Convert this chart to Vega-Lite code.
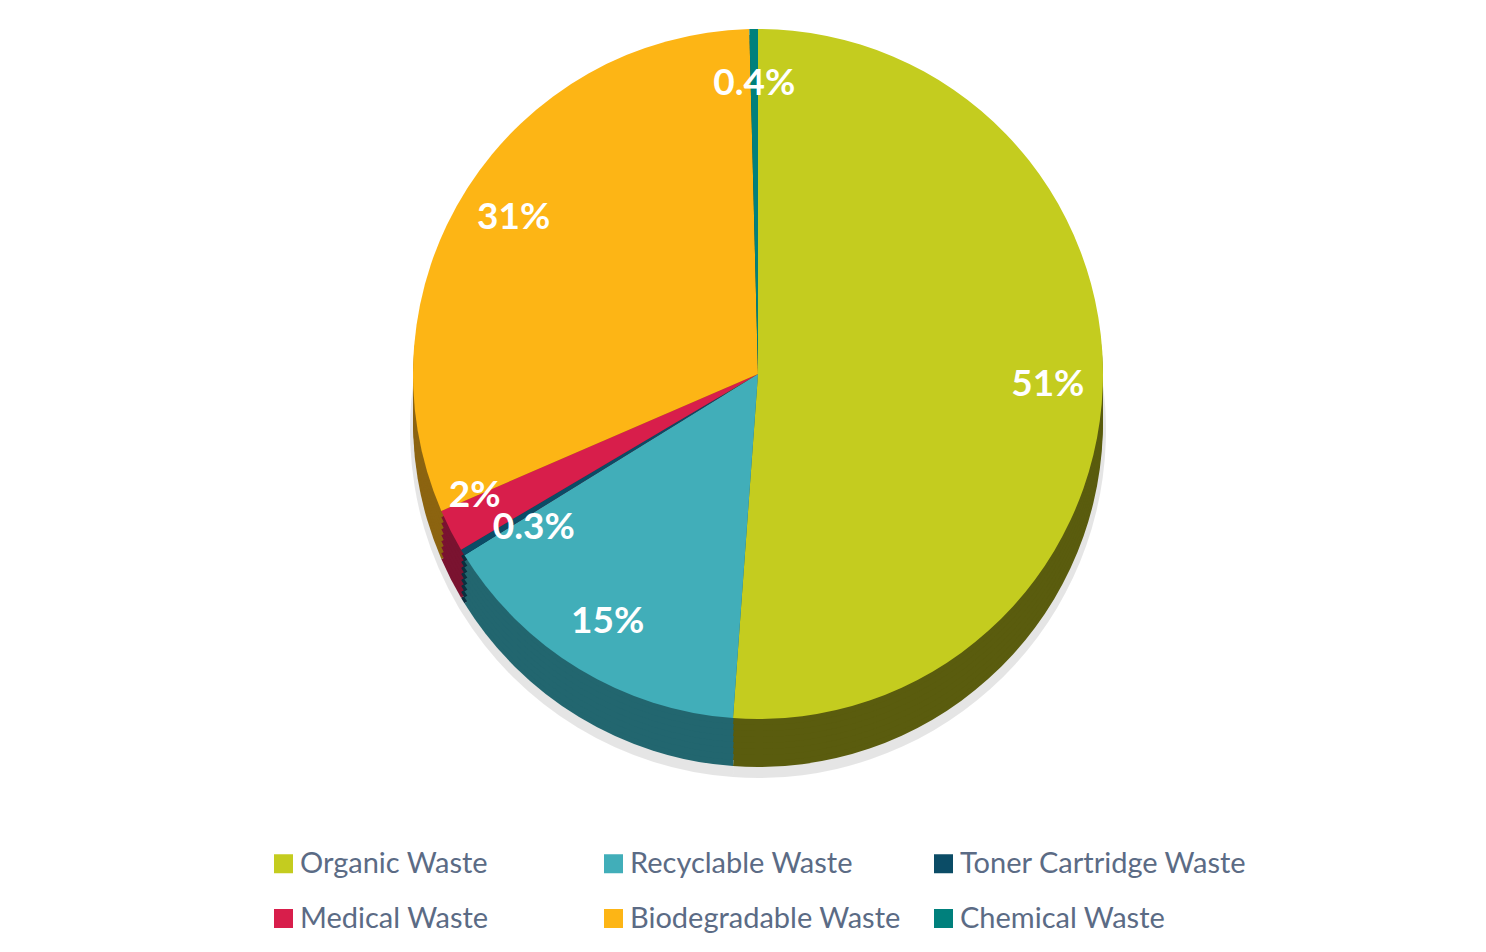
{
  "$schema": "https://vega.github.io/schema/vega-lite/v6.json",
  "width": 1456,
  "height": 738,
  "autosize": {"type": "pad"},
  "padding": {"left": 30, "top": 5, "right": 0, "bottom": 0},
  "background": "white",
  "config": {"view": {"stroke": null}, "font": "Lato"},
  "data": {
    "values": [
      {"category": "Organic Waste", "value": 51, "label": "51%", "idx": 1},
      {"category": "Recyclable Waste", "value": 15, "label": "15%", "idx": 2},
      {"category": "Toner Cartridge Waste", "value": 0.3, "label": "0.3%", "idx": 3},
      {"category": "Medical Waste", "value": 2, "label": "2%", "idx": 4},
      {"category": "Biodegradable Waste", "value": 31, "label": "31%", "idx": 5},
      {"category": "Chemical Waste", "value": 0.4, "label": "0.4%", "idx": 6}
    ]
  },
  "encoding": {
    "theta": {"field": "value", "type": "quantitative", "stack": true},
    "order": {"field": "idx", "type": "quantitative"}
  },
  "layer": [
    {
      "mark": {"type": "arc", "outerRadius": 348, "yOffset": 56, "fill": "#000000", "opacity": 0.1}
    },
    {"mark": {"type": "arc", "outerRadius": 345, "yOffset": 48}, "encoding": {"color": {"field": "category", "type": "nominal", "scale": {"domain": ["Organic Waste", "Recyclable Waste", "Toner Cartridge Waste", "Medical Waste", "Biodegradable Waste", "Chemical Waste"], "range": ["#5A5C0E", "#22666F", "#0A2F3F", "#7A1330", "#8C6410", "#004848"]}, "legend": null}}},
    {"mark": {"type": "arc", "outerRadius": 345, "yOffset": 42}, "encoding": {"color": {"field": "category", "type": "nominal", "scale": {"domain": ["Organic Waste", "Recyclable Waste", "Toner Cartridge Waste", "Medical Waste", "Biodegradable Waste", "Chemical Waste"], "range": ["#5A5C0E", "#22666F", "#0A2F3F", "#7A1330", "#8C6410", "#004848"]}, "legend": null}}},
    {"mark": {"type": "arc", "outerRadius": 345, "yOffset": 36}, "encoding": {"color": {"field": "category", "type": "nominal", "scale": {"domain": ["Organic Waste", "Recyclable Waste", "Toner Cartridge Waste", "Medical Waste", "Biodegradable Waste", "Chemical Waste"], "range": ["#5A5C0E", "#22666F", "#0A2F3F", "#7A1330", "#8C6410", "#004848"]}, "legend": null}}},
    {"mark": {"type": "arc", "outerRadius": 345, "yOffset": 30}, "encoding": {"color": {"field": "category", "type": "nominal", "scale": {"domain": ["Organic Waste", "Recyclable Waste", "Toner Cartridge Waste", "Medical Waste", "Biodegradable Waste", "Chemical Waste"], "range": ["#5A5C0E", "#22666F", "#0A2F3F", "#7A1330", "#8C6410", "#004848"]}, "legend": null}}},
    {"mark": {"type": "arc", "outerRadius": 345, "yOffset": 24}, "encoding": {"color": {"field": "category", "type": "nominal", "scale": {"domain": ["Organic Waste", "Recyclable Waste", "Toner Cartridge Waste", "Medical Waste", "Biodegradable Waste", "Chemical Waste"], "range": ["#5A5C0E", "#22666F", "#0A2F3F", "#7A1330", "#8C6410", "#004848"]}, "legend": null}}},
    {"mark": {"type": "arc", "outerRadius": 345, "yOffset": 18}, "encoding": {"color": {"field": "category", "type": "nominal", "scale": {"domain": ["Organic Waste", "Recyclable Waste", "Toner Cartridge Waste", "Medical Waste", "Biodegradable Waste", "Chemical Waste"], "range": ["#5A5C0E", "#22666F", "#0A2F3F", "#7A1330", "#8C6410", "#004848"]}, "legend": null}}},
    {"mark": {"type": "arc", "outerRadius": 345, "yOffset": 12}, "encoding": {"color": {"field": "category", "type": "nominal", "scale": {"domain": ["Organic Waste", "Recyclable Waste", "Toner Cartridge Waste", "Medical Waste", "Biodegradable Waste", "Chemical Waste"], "range": ["#5A5C0E", "#22666F", "#0A2F3F", "#7A1330", "#8C6410", "#004848"]}, "legend": null}}},
    {"mark": {"type": "arc", "outerRadius": 345, "yOffset": 6}, "encoding": {"color": {"field": "category", "type": "nominal", "scale": {"domain": ["Organic Waste", "Recyclable Waste", "Toner Cartridge Waste", "Medical Waste", "Biodegradable Waste", "Chemical Waste"], "range": ["#5A5C0E", "#22666F", "#0A2F3F", "#7A1330", "#8C6410", "#004848"]}, "legend": null}}},
    {
      "mark": {"type": "arc", "outerRadius": 345},
      "encoding": {
        "color": {"field": "category", "type": "nominal",
          "scale": {"domain": ["Organic Waste", "Recyclable Waste", "Toner Cartridge Waste", "Medical Waste", "Biodegradable Waste", "Chemical Waste"],
                    "range": ["#C4CC1F", "#41AEB9", "#0B4C66", "#D81E4B", "#FDB515", "#00807C"]},
          "legend": {
            "orient": "none", "legendX": 239, "legendY": 844,
            "columns": 3, "direction": "horizontal", "title": null,
            "symbolType": "square", "symbolSize": 361, "symbolStrokeWidth": 0,
            "labelFontSize": 29, "labelColor": "#5B6B85", "labelFont": "Lato",
            "gridAlign": "all", "columnPadding": 12, "rowPadding": 25,
            "labelOffset": 2, "labelLimit": 400, "padding": 0
          }
        }
      }
    },
    {
      "mark": {"type": "text", "radius": 290, "fill": "white", "fontSize": 37, "fontWeight": "bold", "font": "Lato", "align": "center", "baseline": "middle"},
      "encoding": {"text": {"condition": {"test": "datum.idx != 3 && datum.idx != 4", "field": "label", "type": "nominal"}, "value": ""}}
    },
    {
      "mark": {"type": "text", "radius": 318, "dy": -22, "fill": "white", "fontSize": 37, "fontWeight": "bold", "font": "Lato", "align": "center", "baseline": "middle"},
      "encoding": {"text": {"condition": {"test": "datum.idx == 4", "field": "label", "type": "nominal"}, "value": ""}}
    },
    {
      "mark": {"type": "text", "radius": 262, "dy": 18, "fill": "white", "fontSize": 37, "fontWeight": "bold", "font": "Lato", "align": "center", "baseline": "middle"},
      "encoding": {"text": {"condition": {"test": "datum.idx == 3", "field": "label", "type": "nominal"}, "value": ""}}
    }
  ],
  "resolve": {"scale": {"color": "independent"}}
}
